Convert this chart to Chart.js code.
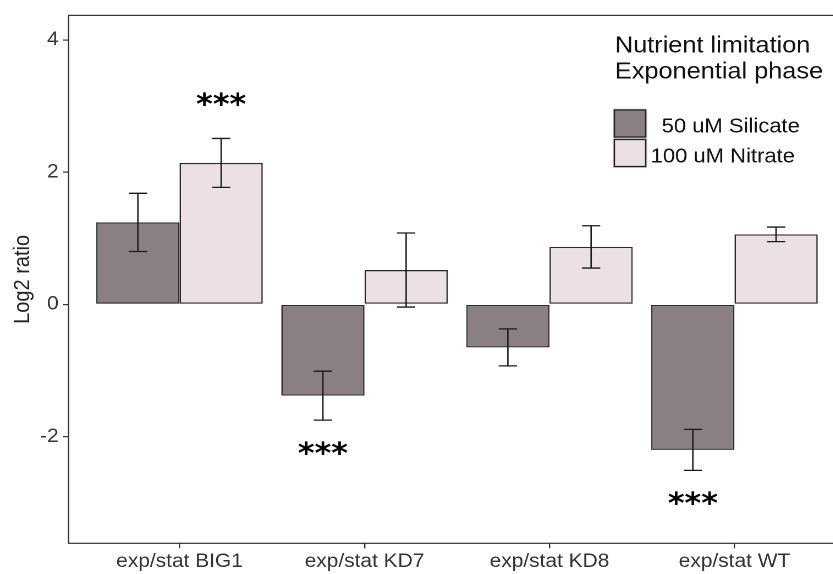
<!DOCTYPE html>
<html>
<head>
<meta charset="utf-8">
<script src="https://cdn.jsdelivr.net/npm/chart.js@4.4.0/dist/chart.umd.min.js"></script>
<style>
  body { margin: 0; width: 833px; height: 574px; overflow: hidden; background: #fff; }
  /* the reference is slightly stretched horizontally, so we do the same */
  #chart { position: absolute; left: 0; top: 0; transform: scaleX(1.1); transform-origin: 0 0; }
</style>
</head>
<body>
<canvas id="chart" width="780" height="574"></canvas>
<script>
// --- data ---
const categories = ['exp/stat BIG1', 'exp/stat KD7', 'exp/stat KD8', 'exp/stat WT'];
const silicate = [1.24, -1.38, -0.65, -2.20];
const silicateErr = [0.44, 0.37, 0.28, 0.31];
const nitrate = [2.14, 0.52, 0.87, 1.06];
const nitrateErr = [0.37, 0.56, 0.32, 0.11];
const silicateStars = [null, -2.17, null, -2.93];   // y of the '***' marks
const nitrateStars = [3.11, null, null, null];
const yTicks = [-2, 0, 2, 4];
const seriesNames = ['50 uM Silicate', '100 uM Nitrate'];
const legendTitle = ['Nutrient limitation', 'Exponential phase'];

const FONT = '"Liberation Sans", Arial, sans-serif';
const colors = ['#8a8083', '#ede0e4'];
const errors = [silicateErr, nitrateErr];
const stars = [silicateStars, nitrateStars];

function toPoints(values) {
    return values.map((v, i) => ({ x: i + 1, y: v }));
}

const extras = {
    id: 'extras',
    afterDatasetsDraw(chart) {
        const ctx = chart.ctx;
        const y = chart.scales.y;
        ctx.save();
        ctx.strokeStyle = '#1a1a1a';
        ctx.lineWidth = 1.3;
        chart.data.datasets.forEach((ds, i) => {
            chart.getDatasetMeta(i).data.forEach((bar, j) => {
                const v = ds.data[j].y;
                const e = errors[i][j];
                const top = y.getPixelForValue(v + e);
                const bot = y.getPixelForValue(v - e);
                const half = bar.width * 0.11;
                ctx.beginPath();
                ctx.moveTo(bar.x, top); ctx.lineTo(bar.x, bot);
                ctx.moveTo(bar.x - half, top); ctx.lineTo(bar.x + half, top);
                ctx.moveTo(bar.x - half, bot); ctx.lineTo(bar.x + half, bot);
                ctx.stroke();
            });
        });

        // significance stars
        ctx.fillStyle = '#000';
        ctx.font = 'bold 29px "DejaVu Sans", sans-serif';
        ctx.textAlign = 'center';
        ctx.textBaseline = 'alphabetic';
        stars.forEach((list, i) => {
            const meta = chart.getDatasetMeta(i);
            list.forEach((s, j) => {
                if (s === null) return;
                ctx.fillText('***', meta.data[j].x, y.getPixelForValue(s) + 15);
            });
        });
        ctx.restore();
    },
    afterDraw(chart) {
        const ctx = chart.ctx;
        const a = chart.chartArea;
        ctx.save();
        // panel border
        ctx.strokeStyle = '#333';
        ctx.lineWidth = 1.2;
        ctx.strokeRect(a.left, a.top, a.right - a.left, a.bottom - a.top);

        // y axis title
        ctx.fillStyle = '#222';
        ctx.font = '20px ' + FONT;
        ctx.textAlign = 'center';
        ctx.textBaseline = 'alphabetic';
        ctx.translate(26.4, (a.top + a.bottom) / 2);
        ctx.rotate(-Math.PI / 2);
        ctx.fillText('Log2 ratio', 0, 0);
        ctx.restore();

        // legend
        ctx.save();
        ctx.fillStyle = '#111';
        ctx.textAlign = 'left';
        ctx.font = '23px ' + FONT;
        ctx.fillText(legendTitle[0], 559, 52.7);
        ctx.fillText(legendTitle[1], 559, 78.3);
        const boxes = [110, 139.5];
        const labelX = [601.5, 591.5];
        const labelY = [132.3, 162.7];
        ctx.font = '20px ' + FONT;
        seriesNames.forEach((name, i) => {
            ctx.fillStyle = colors[i];
            ctx.fillRect(558.5, boxes[i], 28.5, 27);
            ctx.strokeStyle = '#d0d0d0';
            ctx.lineWidth = 1;
            ctx.strokeRect(557.5, boxes[i] - 1, 30.5, 29);
            ctx.strokeStyle = '#222';
            ctx.lineWidth = 1.3;
            ctx.strokeRect(558.5, boxes[i], 28.5, 27);
            ctx.fillStyle = '#111';
            ctx.fillText(name, labelX[i], labelY[i]);
        });
        ctx.restore();
    }
};

new Chart(document.getElementById('chart'), {
    type: 'bar',
    data: {
        datasets: [
            { label: seriesNames[0], data: toPoints(silicate), backgroundColor: colors[0] },
            { label: seriesNames[1], data: toPoints(nitrate), backgroundColor: colors[1] }
        ]
    },
    options: {
        responsive: false,
        devicePixelRatio: 2,
        animation: false,
        layout: { padding: { top: 11, right: 11.4, left: 0, bottom: 0 } },
        datasets: {
            bar: {
                borderColor: '#2a2a2a',
                borderWidth: 1.3,
                borderSkipped: false,
                categoryPercentage: 0.9,
                barPercentage: 1.0
            }
        },
        plugins: {
            legend: { display: false },
            tooltip: { enabled: false }
        },
        scales: {
            x: {
                type: 'linear',
                min: 0.4,
                max: 4.6,
                offset: false,
                afterBuildTicks: s => { s.ticks = categories.map((c, i) => ({ value: i + 1 })); },
                afterFit: s => { s.height = 30.7; },
                grid: { offset: false, drawOnChartArea: false, tickLength: 5, color: '#333', lineWidth: 1.2 },
                border: { display: false },
                ticks: {
                    autoSkip: false,
                    maxRotation: 0,
                    padding: 2,
                    color: '#333',
                    font: { family: FONT, size: 19 },
                    callback: v => categories[v - 1]
                }
            },
            y: {
                min: -3.613,
                max: 4.371,
                afterBuildTicks: s => { s.ticks = yTicks.map(v => ({ value: v })); },
                afterFit: s => { s.width = 62.3; },
                grid: { drawOnChartArea: false, tickLength: 5, color: '#333', lineWidth: 1.2 },
                border: { display: false },
                ticks: {
                    padding: 4,
                    color: '#333',
                    font: { family: FONT, size: 19 },
                    callback: v => String(v)
                }
            }
        }
    },
    plugins: [extras]
});
</script>
</body>
</html>
